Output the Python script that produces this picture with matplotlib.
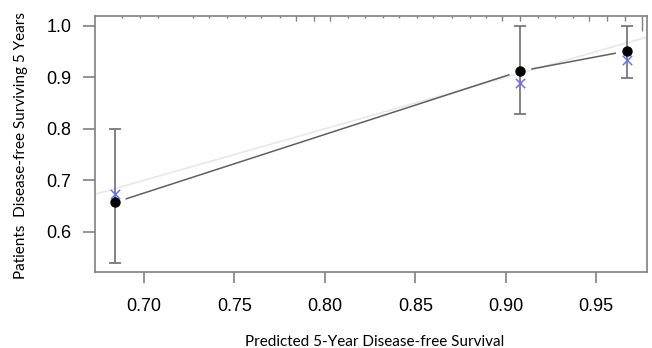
import numpy as np
import matplotlib
matplotlib.use('Agg')
import matplotlib.pyplot as plt
import matplotlib.transforms as mtransforms

# calibration groups: mean predicted, apparent observed, bias-corrected, CI
pred = [0.684, 0.908, 0.967]
observed = [0.657, 0.912, 0.951]
corrected = [0.673, 0.888, 0.933]
ci_low = [0.539, 0.829, 0.898]
ci_high = [0.800, 1.000, 1.000]

# distribution of predictions along the top (rug)
rug_x = [0.688, 0.698, 0.708, 0.727, 0.736, 0.746, 0.756, 0.765, 0.775, 0.784,
         0.794, 0.803, 0.813, 0.822, 0.832, 0.841, 0.851, 0.860, 0.870, 0.880,
         0.889, 0.898, 0.908, 0.918, 0.927, 0.937, 0.946, 0.956, 0.966, 0.975]
rug_n = [1, 1, 1, 1, 1, 1, 1, 1, 1, 2,
         2, 2, 1, 1, 1, 1, 1, 1, 1, 1,
         1, 2, 2, 1, 1, 1, 2, 2, 2, 6]

x_ticks = [0.70, 0.75, 0.80, 0.85, 0.90, 0.95]
y_ticks = [0.6, 0.7, 0.8, 0.9, 1.0]
XLIM = (0.673, 0.978)
YLIM = (0.522, 1.019)
GREY = '#808080'
FIG_W, FIG_H = 652, 348
AX_POS = [0.1457, 0.2184, 0.8466, 0.7356]


def main():
    fig = plt.figure(figsize=(FIG_W / 100, FIG_H / 100), dpi=100)
    ax = fig.add_axes(AX_POS)
    ax.set_xlim(*XLIM)
    ax.set_ylim(*YLIM)
    ax.set_autoscale_on(False)

    # ideal line
    ax.plot(XLIM, XLIM, color='#e8e8e8', lw=1.2, zorder=1)

    # error bars
    ax.errorbar(pred, observed, yerr=[np.subtract(observed, ci_low), np.subtract(ci_high, observed)],
                fmt='none', ecolor='#6e6e6e', elinewidth=1.2, capsize=4, capthick=1.2, zorder=2)

    # observed line, R type "b" style: gaps around the points (gap in pixels)
    sx = AX_POS[2] * FIG_W / (XLIM[1] - XLIM[0])
    sy = AX_POS[3] * FIG_H / (YLIM[1] - YLIM[0])
    pts = np.column_stack([np.array(pred) * sx, np.array(observed) * sy])
    gap = 12
    for i in range(len(pts) - 1):
        p0, p1 = pts[i], pts[i + 1]
        d = p1 - p0
        u = d / np.hypot(*d)
        seg = np.array([p0 + u * gap, p1 - u * gap])
        ax.plot(seg[:, 0] / sx, seg[:, 1] / sy, color='#5f5f5f', lw=1.1, zorder=3)

    ax.scatter(pred, observed, s=42, color='black', zorder=4)
    ax.scatter(pred, corrected, s=45, marker='x', color='#6f6ff5', lw=1.1, zorder=5)

    # rug along the top
    trans = mtransforms.blended_transform_factory(ax.transData, ax.transAxes)
    ax.vlines(rug_x, 1 - 0.0095 * np.array(rug_n), 1, color='#808080', lw=1.0, transform=trans)

    for s in ax.spines.values():
        s.set_color(GREY)
        s.set_linewidth(1.2)
    ax.set_xticks(x_ticks)
    ax.set_xticklabels(['%.2f' % v for v in x_ticks])
    ax.set_yticks(y_ticks)
    ax.set_yticklabels(['%.1f' % v for v in y_ticks])
    ax.tick_params(axis='x', length=8, width=1.2, color=GREY, pad=11, labelsize=13)
    ax.tick_params(axis='y', length=9, width=1.2, color=GREY, pad=8, labelsize=13)
    for lab in ax.get_xticklabels() + ax.get_yticklabels():
        lab.set_family('Liberation Sans')

    fig.text(0.574, 0.018, 'Predicted 5-Year Disease-free Survival', ha='center', va='center',
             family='Lato', fontsize=11)
    fig.text(0.032, 0.583, 'Patients  Disease-free Surviving 5 Years', ha='center', va='center',
             rotation=90, family='Lato', fontsize=11)

    fig.savefig('out.png', dpi=100)


if __name__ == "__main__":
    main()
